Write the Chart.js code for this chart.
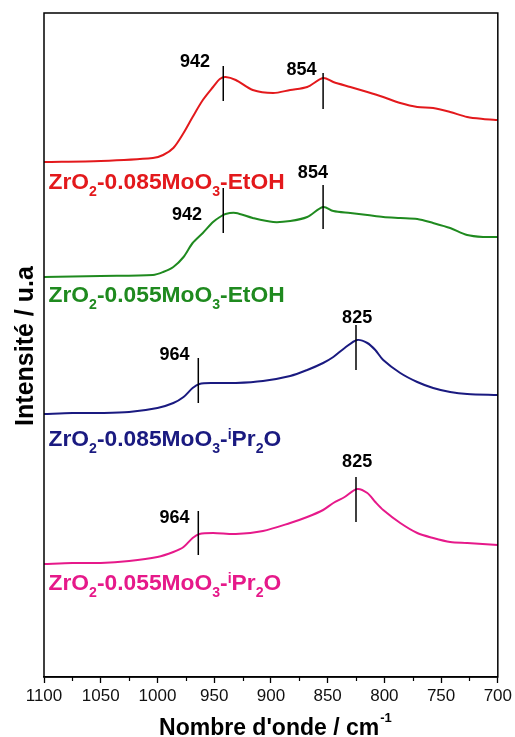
<!DOCTYPE html>
<html>
<head>
<meta charset="utf-8">
<script src="https://cdn.jsdelivr.net/npm/chart.js@4/dist/chart.umd.min.js"></script>
<style>
  html, body { margin: 0; padding: 0; background: #ffffff; }
  #wrap { width: 515px; height: 737px; position: relative; }
</style>
</head>
<body>
<div id="wrap"><canvas id="c" width="515" height="737"></canvas></div>
<script>
// ---- data ----
const wnEtOH = [1100, 1050, 1004, 995, 986, 977, 969, 960, 951, 945, 940, 931, 916, 898, 883, 868, 854, 845, 830, 815, 801, 786, 771, 757, 742, 727, 713, 700];
const red085EtOH = [515, 516, 519, 522, 529, 544, 560, 577, 590, 598, 600, 597, 587, 584, 587, 590, 599, 595, 590, 585, 580, 574, 570, 569, 565, 560, 558, 557];
const green055EtOH = [400, 401, 402, 405, 410, 420, 434, 444, 455, 460, 463, 464, 459, 455, 456, 460, 470, 466, 464, 462, 460, 459, 458, 454, 449, 442, 440, 440];

const wnPr2O = [1100, 1075, 1050, 1025, 1000, 986, 977, 969, 963, 951, 931, 907, 883, 868, 854, 845, 835, 824, 815, 808, 801, 786, 771, 757, 742, 727, 700];
const blue085Pr2O = [263, 264, 264, 265, 269, 274, 280, 289, 293, 294, 294, 296, 301, 307, 314, 320, 329, 337, 334, 327, 317, 304, 295, 289, 285, 283, 282];
const pink055Pr2O = [113, 114, 114, 116, 120, 125, 130, 139, 143, 144, 143, 146, 154, 160, 167, 174, 180, 188, 184, 175, 167, 154, 144, 139, 135, 134, 132];

const seriesNames = ["ZrO2-0.085MoO3-EtOH", "ZrO2-0.055MoO3-EtOH", "ZrO2-0.085MoO3-iPr2O", "ZrO2-0.055MoO3-iPr2O"];
const seriesLabelAt = [[1096, 488], [1096, 375], [1096, 231], [1096, 87]]; // [wavenumber, intensity]

// peak markers
const peakWn     = [942, 854, 942, 854, 964, 825, 964, 825];
const peakTop    = [611, 604, 489, 492, 319, 352, 166, 200];
const peakBottom = [576, 568, 444, 448, 274, 307, 122, 155];
const peakText   = ["942", "854", "942", "854", "964", "825", "964", "825"];
const peakLabelX = [967, 873, 974, 863, 985, 824, 985, 824];
const peakLabelY = [615, 607, 462, 504, 322, 359, 159, 215];

const xTicksMajor = [1100, 1050, 1000, 950, 900, 850, 800, 750, 700];
const xTicksMinor = [1075, 1025, 975, 925, 875, 825, 775, 725];

const colors = ["#e3191c", "#1f8a1f", "#1a1a80", "#e6198a"];

const toXY = (xs, ys) => xs.map((x, i) => ({x: x, y: ys[i]}));

const FONT = "'Liberation Sans', Arial, Helvetica, sans-serif";

function drawRuns(ctx, runs, x, y, size, color) {
  let cx = x;
  ctx.fillStyle = color;
  ctx.textBaseline = 'alphabetic';
  ctx.textAlign = 'left';
  for (const r of runs) {
    let fs = size, dy = 0;
    if (r.t === 'sub') { fs = size * 0.62; dy = size * 0.32; }
    if (r.t === 'sup') { fs = size * 0.62; dy = -size * 0.30; }
    ctx.font = "bold " + fs + "px " + FONT;
    ctx.fillText(r.s, cx, y + dy);
    cx += ctx.measureText(r.s).width;
  }
}

function runsFor(name) {
  const m = name.match(/^(ZrO)(2)(-0\.\d+MoO)(3)(-)(.*)$/);
  const runs = [{s: m[1], t: 'n'}, {s: m[2], t: 'sub'}, {s: m[3], t: 'n'}, {s: m[4], t: 'sub'}, {s: m[5], t: 'n'}];
  const rest = m[6];
  if (rest.startsWith('iPr')) {
    runs.push({s: 'i', t: 'sup'}, {s: 'Pr', t: 'n'}, {s: '2', t: 'sub'}, {s: 'O', t: 'n'});
  } else {
    runs.push({s: rest, t: 'n'});
  }
  return runs;
}

const decorPlugin = {
  id: 'decor',
  afterDatasetsDraw(chart) {
    const ctx = chart.ctx;
    const xs = chart.scales.x, ys = chart.scales.y;
    const a = chart.chartArea;
    ctx.save();
    ctx.strokeStyle = '#000';
    ctx.lineWidth = 1.5;
    ctx.strokeRect(a.left, a.top, a.right - a.left, a.bottom - a.top);
    ctx.lineWidth = 1.2;
    for (const v of xTicksMinor) {
      const px = Math.round(xs.getPixelForValue(v)) + 0.5;
      ctx.beginPath();
      ctx.moveTo(px, a.bottom);
      ctx.lineTo(px, a.bottom + 4);
      ctx.stroke();
    }
    ctx.lineWidth = 1.5;
    for (let i = 0; i < peakWn.length; i++) {
      const px = xs.getPixelForValue(peakWn[i]);
      ctx.beginPath();
      ctx.moveTo(px, ys.getPixelForValue(peakTop[i]));
      ctx.lineTo(px, ys.getPixelForValue(peakBottom[i]));
      ctx.stroke();
      ctx.fillStyle = '#000';
      ctx.font = "bold 18px " + FONT;
      ctx.textAlign = 'center';
      ctx.textBaseline = 'middle';
      ctx.fillText(peakText[i], xs.getPixelForValue(peakLabelX[i]), ys.getPixelForValue(peakLabelY[i]));
    }
    for (let i = 0; i < seriesNames.length; i++) {
      drawRuns(ctx, runsFor(seriesNames[i]), xs.getPixelForValue(seriesLabelAt[i][0]),
               ys.getPixelForValue(seriesLabelAt[i][1]), 22.8, colors[i]);
    }
    ctx.fillStyle = '#000';
    ctx.font = "bold 23px " + FONT;
    ctx.textBaseline = 'alphabetic';
    ctx.textAlign = 'left';
    const t = "Nombre d'onde / cm";
    const tw = ctx.measureText(t).width;
    ctx.font = "bold 13px " + FONT;
    const sw = ctx.measureText("-1").width;
    const x0 = (a.left + a.right) / 2 - (tw + sw) / 2 + 4;
    ctx.font = "bold 23px " + FONT;
    ctx.fillText(t, x0, 735);
    ctx.font = "bold 13px " + FONT;
    ctx.fillText("-1", x0 + tw + 1, 722);
    ctx.translate(33, (a.top + a.bottom) / 2 + 1);
    ctx.rotate(-Math.PI / 2);
    ctx.font = "bold 25px " + FONT;
    ctx.textAlign = 'center';
    ctx.textBaseline = 'alphabetic';
    ctx.fillText("Intensité / u.a", 0, 0);
    ctx.restore();
  }
};

new Chart(document.getElementById('c'), {
  type: 'line',
  data: {
    datasets: [
      {label: seriesNames[0], data: toXY(wnEtOH, red085EtOH), borderColor: colors[0]},
      {label: seriesNames[1], data: toXY(wnEtOH, green055EtOH), borderColor: colors[1]},
      {label: seriesNames[2], data: toXY(wnPr2O, blue085Pr2O), borderColor: colors[2]},
      {label: seriesNames[3], data: toXY(wnPr2O, pink055Pr2O), borderColor: colors[3]}
    ].map(d => Object.assign(d, {borderWidth: 2, pointRadius: 0, fill: false, tension: 0.3}))
  },
  options: {
    responsive: false,
    animation: false,
    devicePixelRatio: 1,
    layout: {padding: {left: 44, top: 13, right: 17, bottom: 0}},
    plugins: {legend: {display: false}, tooltip: {enabled: false}},
    scales: {
      x: {
        type: 'linear',
        reverse: true,
        min: 700, max: 1100,
        afterFit(scale) { scale.height = 60; },
        afterBuildTicks(scale) { scale.ticks = xTicksMajor.map(v => ({value: v})); },
        ticks: {
          autoSkip: false, maxRotation: 0, padding: 3,
          color: '#111',
          font: {family: FONT, size: 17},
          callback: v => String(v)
        },
        grid: {drawOnChartArea: false, drawTicks: true, tickLength: 6, tickColor: '#000', tickWidth: 1.3},
        border: {display: true, color: '#000', width: 1.5}
      },
      y: {
        display: false,
        min: 0, max: 664
      }
    }
  },
  plugins: [decorPlugin]
});
</script>
</body>
</html>
